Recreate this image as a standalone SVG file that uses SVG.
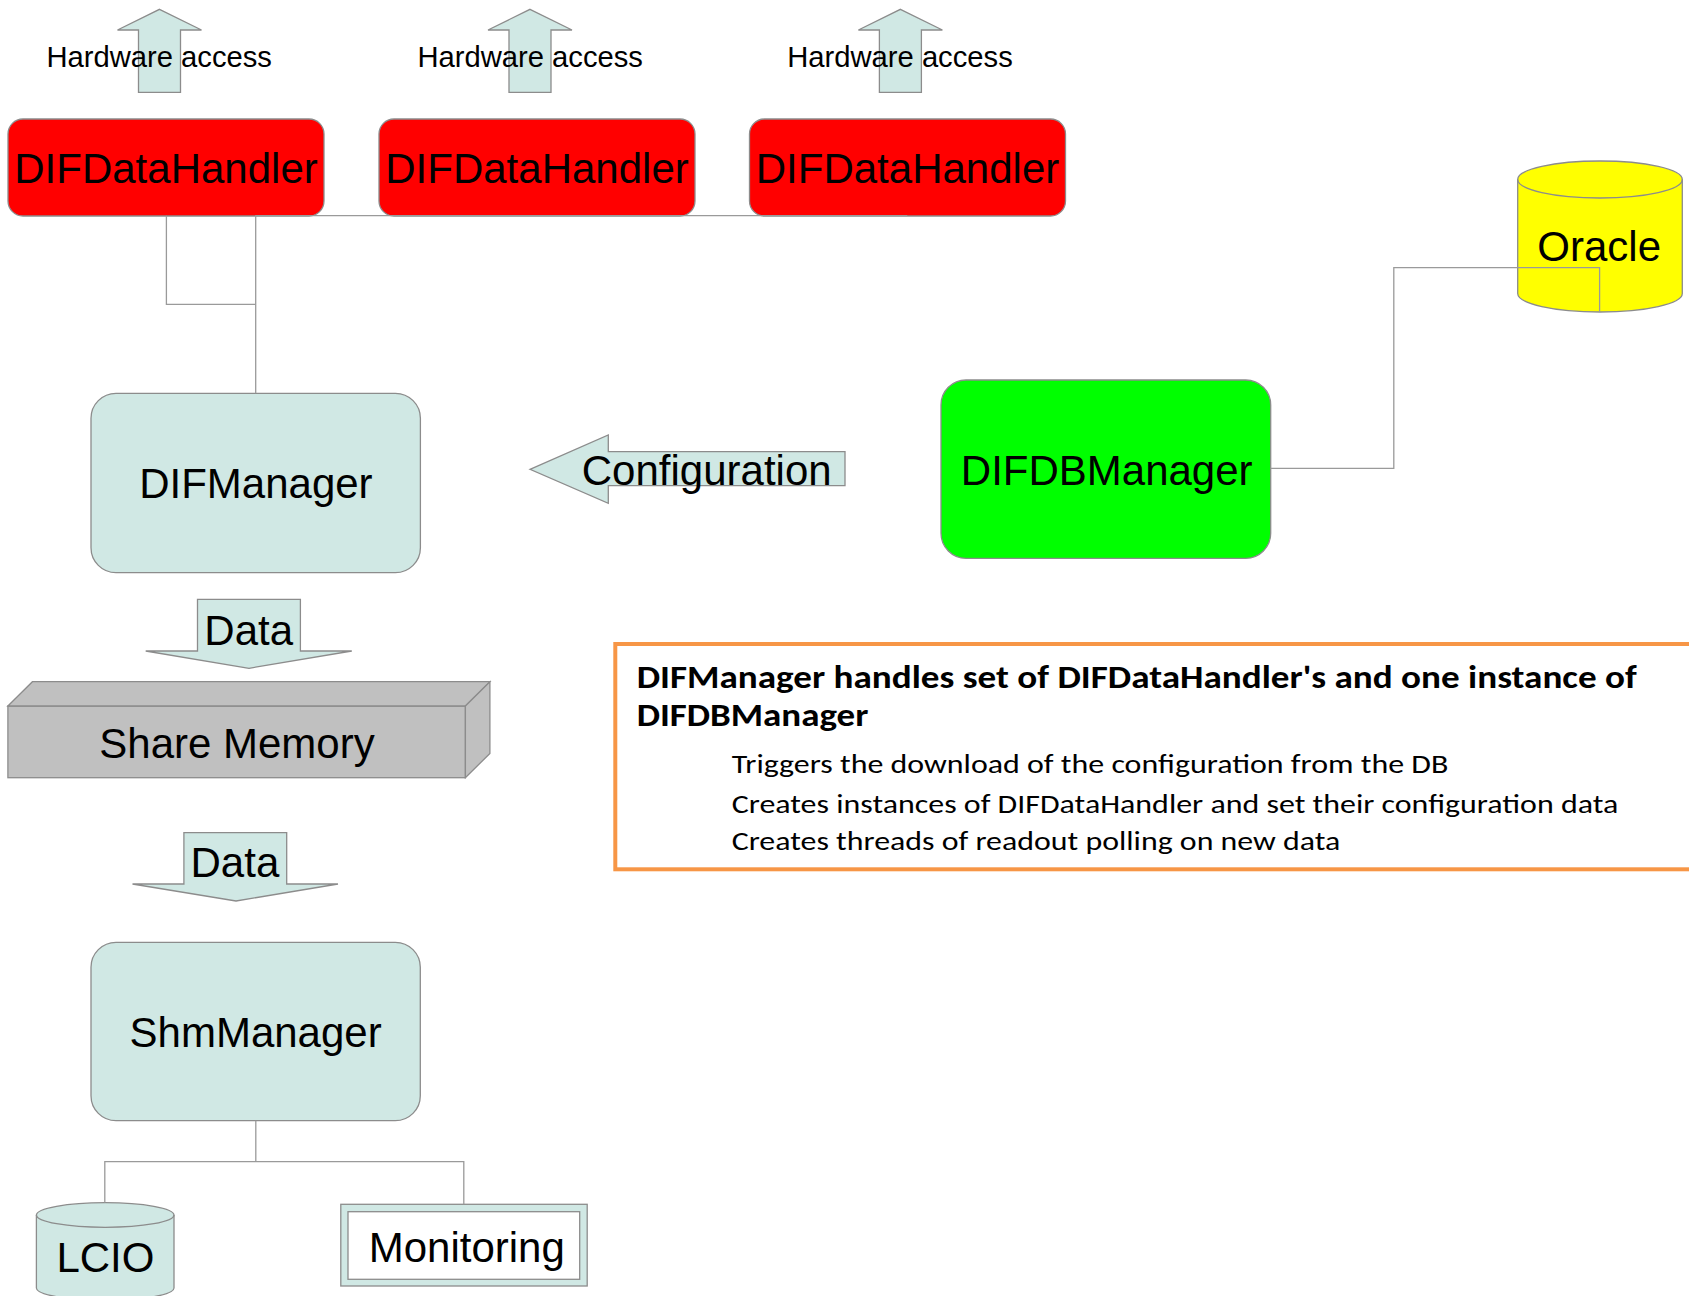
<svg xmlns="http://www.w3.org/2000/svg" width="1689" height="1296" viewBox="0 0 1689 1296">
<style>
.lbl{font-family:"Liberation Sans",Arial,sans-serif;fill:#000;text-anchor:middle}
.big{font-size:42px}
.hw{font-size:29.2px}
.edge{fill:none;stroke:#9a9a9a;stroke-width:1.3}
.shape{stroke:#8c8c8c;stroke-width:1.3}
.teal{fill:#d0e8e4}
.note{font-family:Carlito,Lato,"Open Sans",sans-serif;fill:#000}
</style>
<rect width="1689" height="1296" fill="#fff"/>

<g id="hw-arrow-1">
  <polygon class="shape teal" points="159.5,9.3 201.5,30 180.5,30 180.5,92.3 138.5,92.3 138.5,30 117.5,30"/>
  <text class="lbl hw" x="159.2" y="66.7">Hardware access</text>
</g>
<g id="hw-arrow-2">
  <polygon class="shape teal" points="530,9.3 572,30 551,30 551,92.3 509,92.3 509,30 488,30"/>
  <text class="lbl hw" x="530.2" y="66.7">Hardware access</text>
</g>
<g id="hw-arrow-3">
  <polygon class="shape teal" points="900.4,9.3 942.4,30 921.4,30 921.4,92.3 879.4,92.3 879.4,30 858.4,30"/>
  <text class="lbl hw" x="900" y="66.7">Hardware access</text>
</g>

<g id="difdatahandler-1">
  <rect class="shape" x="8" y="119" width="316" height="97" rx="15" fill="#ff0000"/>
  <text class="lbl big" x="166" y="182.7">DIFDataHandler</text>
</g>
<g id="difdatahandler-2">
  <rect class="shape" x="379" y="119" width="316" height="97" rx="15" fill="#ff0000"/>
  <text class="lbl big" x="537" y="182.7">DIFDataHandler</text>
</g>
<g id="difdatahandler-3">
  <rect class="shape" x="749.5" y="119" width="316" height="97" rx="15" fill="#ff0000"/>
  <text class="lbl big" x="907.5" y="182.7">DIFDataHandler</text>
</g>

<g id="oracle">
  <path class="shape" d="M1517.7,179.5 V293.5 A82.3,18.5 0 0 0 1682.3,293.5 V179.5 A82.3,18.5 0 0 0 1517.7,179.5 Z" fill="#ffff00"/>
  <path class="shape" d="M1517.7,179.5 A82.3,18.5 0 0 0 1682.3,179.5" fill="none"/>
  <text class="lbl big" x="1599.2" y="260.7">Oracle</text>
</g>

<g id="difmanager">
  <rect class="shape teal" x="91" y="393.3" width="329.4" height="179.4" rx="25"/>
  <text class="lbl big" x="255.9" y="498.3">DIFManager</text>
</g>

<g id="configuration-arrow">
  <polygon class="shape teal" points="530,469.3 608.3,435 608.3,451.7 845,451.7 845,485.7 608.3,485.7 608.3,503.3"/>
  <text class="lbl big" x="706.7" y="485">Configuration</text>
</g>

<g id="difdbmanager">
  <rect class="shape" x="941" y="380" width="329.7" height="178.3" rx="25" fill="#00ff00"/>
  <text class="lbl big" x="1106.7" y="485">DIFDBManager</text>
</g>

<g id="data-arrow-1">
  <polygon class="shape teal" points="197.5,599.3 300.4,599.3 300.4,651 351.8,651 249,668.3 145.7,651 197.5,651"/>
  <text class="lbl big" x="248.7" y="645">Data</text>
</g>

<g id="share-memory">
  <rect class="shape" x="7.9" y="706" width="457.5" height="71.7" fill="#c0c0c0"/>
  <polygon class="shape" points="7.9,706 32.4,681.7 489.9,681.7 465.4,706" fill="#c0c0c0"/>
  <polygon class="shape" points="465.4,706 489.9,681.7 489.9,753.4 465.4,777.7" fill="#c0c0c0"/>
  <text class="lbl big" x="237" y="758.3">Share Memory</text>
</g>

<g id="data-arrow-2">
  <polygon class="shape teal" points="183.9,832.7 286.7,832.7 286.7,884 338,884 236,901 132.5,884 183.9,884"/>
  <text class="lbl big" x="234.9" y="876.7">Data</text>
</g>

<g id="shmmanager">
  <rect class="shape teal" x="91" y="942.3" width="329.3" height="178.4" rx="25"/>
  <text class="lbl big" x="255.6" y="1046.7">ShmManager</text>
</g>

<g id="lcio">
  <path class="shape teal" d="M36.4,1215 V1288 A68.8,12.3 0 0 0 174,1288 V1215 A68.8,12.3 0 0 0 36.4,1215 Z"/>
  <path class="shape" d="M36.4,1215 A68.8,12.3 0 0 0 174,1215" fill="none"/>
  <text class="lbl big" x="105.4" y="1272.3">LCIO</text>
</g>

<g id="monitoring">
  <rect class="shape teal" x="340.8" y="1204.3" width="246.4" height="81.7"/>
  <rect class="shape" x="348" y="1211.7" width="231.7" height="67.6" fill="#ffffff"/>
  <text class="lbl big" x="466.8" y="1261.7">Monitoring</text>
</g>

<g id="note">
  <rect x="615.3" y="644" width="1100" height="225.3" fill="none" stroke="#f79646" stroke-width="4"/>
  <text class="note" font-weight="bold" font-size="32" x="636.7" y="687.7" textLength="1000" lengthAdjust="spacingAndGlyphs">DIFManager handles set of DIFDataHandler's and one instance of</text>
  <text class="note" font-weight="bold" font-size="32" x="636.7" y="726" textLength="231.6" lengthAdjust="spacingAndGlyphs">DIFDBManager</text>
  <text class="note" font-size="26.5" x="731.7" y="773.3" textLength="716.6" lengthAdjust="spacingAndGlyphs">Triggers the download of the configuration from the DB</text>
  <text class="note" font-size="26.5" x="731.7" y="812.7" textLength="886.6" lengthAdjust="spacingAndGlyphs">Creates instances of DIFDataHandler and set their configuration data</text>
  <text class="note" font-size="26.5" x="731.7" y="850" textLength="608.6" lengthAdjust="spacingAndGlyphs">Creates threads of readout polling on new data</text>
</g>

<g id="connectors">
  <path class="edge" d="M255.7,393.3 V215.7 H907.3"/>
  <path class="edge" d="M166.4,215.7 V304.3 H255.7"/>
  <path class="edge" d="M1270.7,468.3 H1393.8 V267.7 H1599.6 V311.7"/>
  <path class="edge" d="M255.8,1120.7 V1161.7"/>
  <path class="edge" d="M104.8,1202.7 V1161.7 H463.8 V1204.3"/>
</g>
</svg>
